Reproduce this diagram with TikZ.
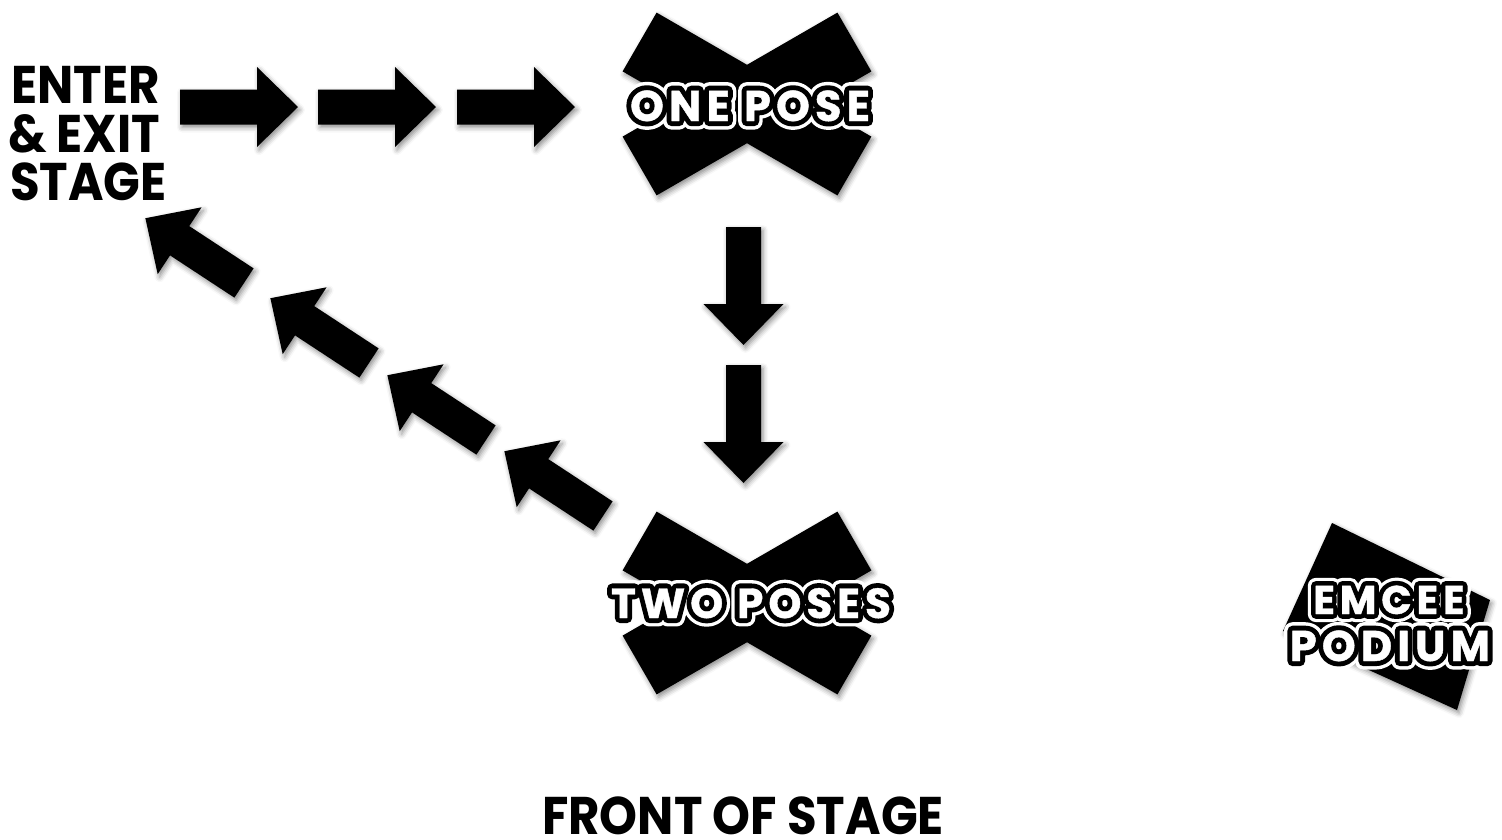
\documentclass[tikz,border=0pt]{standalone}
\usepackage{fontspec}
\setmainfont{Poppins}
\newfontfamily\labelfont{Poppins}[FakeStretch=0.91]
\newfontfamily\olwhite{Poppins}[LetterSpace=12,BoldFeatures={FakeBold=40}]
\newfontfamily\olblack{Poppins}[LetterSpace=12,BoldFeatures={FakeBold=24}]
\newfontfamily\olcore{Poppins}[LetterSpace=12,BoldFeatures={FakeBold=1}]
\usetikzlibrary{shadows.blur}
\tikzset{
  shadowed/.style={blur shadow={shadow xshift=2pt,shadow yshift=-3pt,shadow blur radius=5pt,shadow opacity=45}},
  blkshape/.style={fill=black, shadowed},
  labeltxt/.style={font=\labelfont\bfseries\fontsize{53}{53}\selectfont, text=black, inner sep=0pt},
  olbase/.style={inner sep=0pt, anchor=base, line join=round},
  olA/.style={olbase, text=white, font=\olwhite\bfseries\fontsize{#1}{#1}\selectfont},
  olB/.style={olbase, text=black, font=\olblack\bfseries\fontsize{#1}{#1}\selectfont},
  olC/.style={olbase, text=white, font=\olcore\bfseries\fontsize{#1}{#1}\selectfont},
}
\newcommand\blockarrow[3]{%
  \fill[blkshape, shift={(#1,#2)}, rotate=#3]
    (0,-17.5) -- (77,-17.5) -- (77,-40) -- (118,0) -- (77,40) -- (77,17.5) -- (0,17.5) -- cycle;}
\newcommand\xmark[2]{%
  \fill[blkshape, shift={(#1,#2)}]
    (-90.4,-91.4) -- (0,-39.2) -- (90.4,-91.4) -- (124.4,-32.6) -- (67.9,0) -- (124.4,32.6) -- (90.4,91.4) -- (0,39.2) -- (-90.4,91.4) -- (-124.4,32.6) -- (-67.9,0) -- (-124.4,-32.6) -- cycle;}
\newcommand\outlinedtext[4]{% name, position, size, text
  \node[olA=#3] (#1-w) at (#2) {#4};
  \node[olB=#3] (#1-b) at (#2) {#4};
  \node[olC=#3] (#1) at (#2) {#4};}
\begin{document}
\begin{tikzpicture}[x=1pt,y=-1pt]
\useasboundingbox (0,0) rectangle (1502,839);
\node[labeltxt, anchor=base west] (enter) at (11,103) {ENTER};
\node[labeltxt, anchor=base west] (exit) at (8,152) {\& EXIT};
\node[labeltxt, anchor=base west] (stage) at (10,200) {STAGE};
\blockarrow{180}{107}{0}
\blockarrow{318}{107}{0}
\blockarrow{457}{107}{0}
\xmark{747}{104}
\outlinedtext{onepose}{750,121}{43}{ONE POSE}
\blockarrow{743.5}{227}{-90}
\blockarrow{743.5}{365}{-90}
\xmark{747}{603}
\outlinedtext{twoposes}{751,618}{42}{TWO POSES}
\blockarrow{603}{516}{146.7}
\blockarrow{486}{440}{146.7}
\blockarrow{369}{363}{146.7}
\blockarrow{244}{283}{146.7}
\fill[blkshape] (1332,523) -- (1490,600) -- (1457,710) -- (1283,631) -- cycle;
\outlinedtext{emcee}{1389,614}{40}{EMCEE}
\outlinedtext{podium}{1390,661}{43}{PODIUM}
\node[labeltxt, anchor=base] (front) at (743,834) {FRONT OF STAGE};
\end{tikzpicture}
\end{document}
